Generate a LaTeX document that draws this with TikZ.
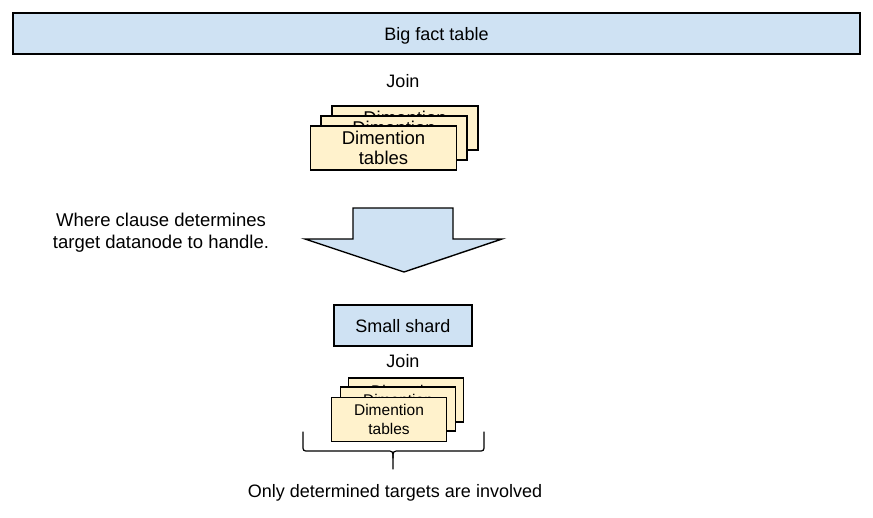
\documentclass[tikz,border=0pt]{standalone}
\usepackage{fontspec}
\setmainfont{Liberation Sans}
\definecolor{shardblue}{HTML}{CFE2F3}
\definecolor{cardyellow}{HTML}{FFF2CC}
\begin{document}
\begin{tikzpicture}
          [x=1pt,y=-1pt,line width=1.2pt,every node/.style={font=\fontsize{18}{21}\selectfont},
           facttable/.style={draw, fill=shardblue, inner sep=0pt, text depth=0pt, minimum height=41pt},
           card/.style={draw, fill=cardyellow, align=center, inner sep=0pt, minimum width=146pt, minimum height=44pt,
             font=\fontsize{18.5}{20}\selectfont},
           smallcard/.style={card, minimum width=115pt, minimum height=44pt, font=\fontsize{15.5}{19}\selectfont}]
        \useasboundingbox (0,0) rectangle (873,517);
        \node[facttable, minimum width=847pt] (fact) at (436.5,33.5) {Big fact table};
        \node (join1) at (403,81) {Join};

        % dimension tables, back to front
        \node[card] (dimA) at (405,128) {Dimention\\tables};
        \node[card] (dimB) at (394,138) {Dimention\\tables};
        \node[card] (dimC) at (383.5,148) {Dimention\\tables};

        \node[align=center, font=\fontsize{18.5}{22}\selectfont] (where) at (161,233)
          {Where clause determines\\target datanode to handle.};
        \draw[fill=shardblue, line width=1.4pt] (353,208) -- (453,208) -- (453,239) -- (502,239)
          -- (404,272) -- (305,239) -- (353,239) -- cycle;

        \node[facttable, minimum width=138pt] (shard) at (403,325.5) {Small shard};
        \node (join2) at (403,361) {Join};

        \node[smallcard] (sdimA) at (406,400) {Dimention\\tables};
        \node[smallcard] (sdimB) at (398,409) {Dimention\\tables};
        \node[smallcard] (sdimC) at (389,419.5) {Dimention\\tables};

        % brace under the small tables
        \coordinate (bl) at (303,432);
        \coordinate (br) at (484,432);
        \coordinate (bt) at (393,469);
        \draw[line cap=round] (bl) -- (303,445) .. controls (303,451) .. (309,451) -- (386,451)
          .. controls (393,451) .. (393,458) -- (bt);
        \draw[line cap=round] (br) -- (484,445) .. controls (484,451) .. (478,451) -- (400,451)
          .. controls (393,451) .. (393,458);
        \node (only) at (395,493) {Only determined targets are involved};
      \end{tikzpicture}
\end{document}
